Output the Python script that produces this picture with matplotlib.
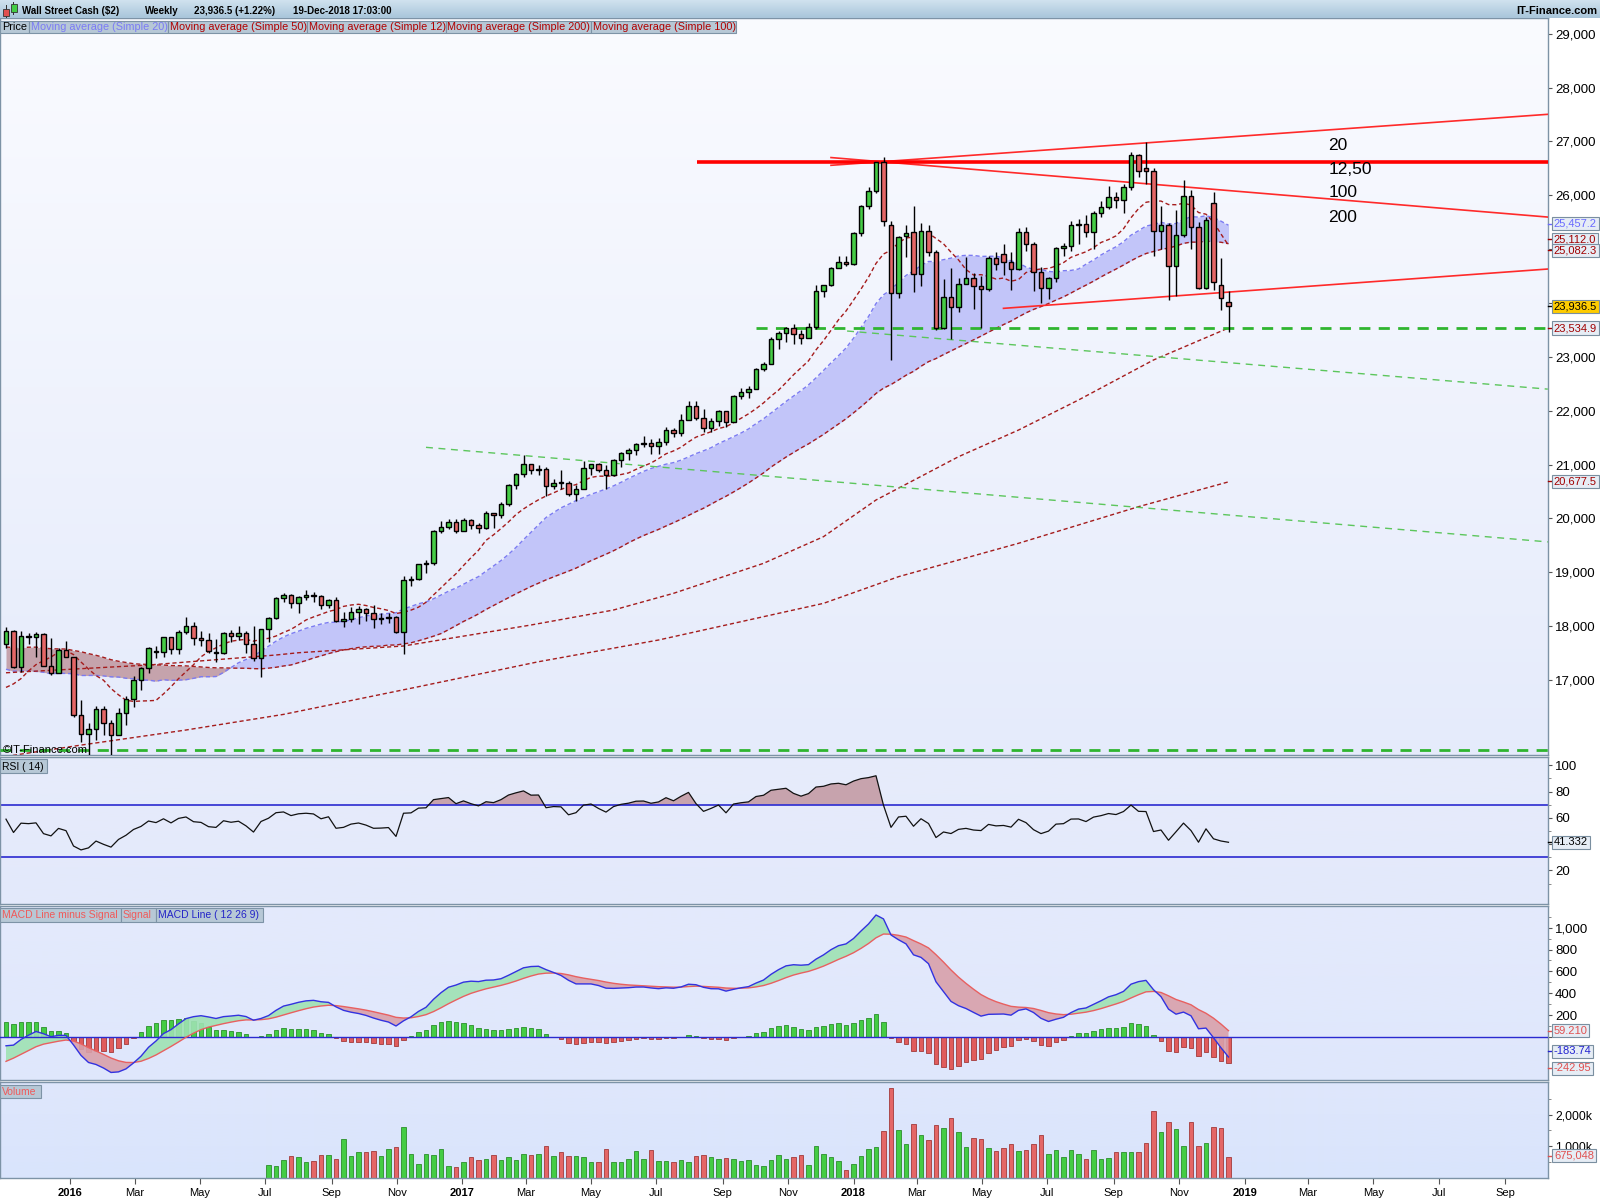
import numpy as np
import pandas as pd
import matplotlib
matplotlib.use("Agg")
import matplotlib.pyplot as plt
import matplotlib.dates as mdates
from matplotlib import font_manager
from matplotlib.patches import Rectangle
from matplotlib.colors import LinearSegmentedColormap
from matplotlib.transforms import blended_transform_factory as blend

# ---------------- data (weekly candles) ----------------
first_week = "2015-11-02"
opens = [
    17663, 17910, 17245, 17824, 17798, 17848, 17265, 17128, 17552, 17425,
    16346, 15988, 16094, 16466, 16205, 15974, 16392, 16640, 17006, 17213,
    17520, 17515, 17792, 17577, 17897, 18003, 17774, 17740, 17510, 17500,
    17873, 17807, 17865, 17675, 17400, 17949, 18147, 18517, 18571, 18432,
    18543, 18576, 18553, 18395, 18492, 18085, 18124, 18261, 18308, 18240,
    18138, 18145, 18161, 17888, 18847, 18868, 19152, 19171, 19757, 19843,
    19934, 19763, 19964, 19886, 19827, 20094, 20071, 20269, 20624, 20822,
    21006, 20903, 20915, 20597, 20663, 20656, 20453, 20548, 20941, 21007,
    20897, 20805, 21080, 21206, 21272, 21384, 21395, 21350, 21414, 21638,
    21580, 21830, 22092, 21858, 21675, 21814, 21988, 21798, 22268, 22350,
    22405, 22774, 22872, 23329, 23434, 23539, 23422, 23358, 23558, 24231,
    24329, 24652, 24754, 24719, 25296, 25803, 26072, 26617, 25450, 24191,
    25245, 25310, 24538, 25336, 24946, 23533, 24103, 23933, 24360, 24463,
    24311, 24263, 24831, 24900, 24753, 24635, 25317, 25090, 24581, 24271,
    24456, 25019, 25058, 25451, 25463, 25313, 25669, 25790, 25965, 25917,
    26155, 26744, 26500, 26447, 25340, 25444, 24688, 25271, 25989, 25413,
    24286, 25862, 24340, 24020]
highs = [
    17978, 17920, 17914, 17870, 17895, 17880, 17770, 17600, 17720, 17425,
    16620, 16200, 16510, 16510, 16250, 16480, 16700, 17070, 17240, 17620,
    17630, 17800, 17800, 17920, 18170, 18080, 17900, 17880, 17760, 17890,
    17920, 18000, 17900, 18010, 17950, 18170, 18540, 18620, 18590, 18560,
    18670, 18630, 18570, 18510, 18540, 18270, 18360, 18370, 18330, 18400,
    18250, 18250, 18180, 18930, 18930, 19160, 19230, 19780, 19950, 19990,
    19980, 19999, 19990, 19910, 20130, 20100, 20300, 20640, 20850, 21170,
    21010, 21000, 20950, 20740, 20890, 20700, 20620, 21070, 21010, 21020,
    21000, 21110, 21230, 21300, 21400, 21530, 21480, 21500, 21690, 21680,
    21930, 22180, 22180, 22040, 21860, 22010, 22000, 22290, 22420, 22450,
    22790, 22910, 23370, 23480, 23560, 23610, 23500, 23620, 24330, 24330,
    24670, 24880, 24880, 25320, 25810, 26150, 26620, 26705, 25530, 25250,
    25440, 25800, 25490, 25450, 24980, 24445, 24646, 24460, 24860, 24560,
    24500, 24870, 24950, 25090, 24950, 25400, 25410, 25130, 24660, 24480,
    25040, 25120, 25530, 25560, 25630, 25700, 25900, 26170, 26060, 26200,
    26800, 26770, 26980, 26510, 25800, 25480, 25720, 26280, 26100, 25500,
    25600, 26066, 24840, 24222]
lows = [
    17600, 17220, 17150, 17660, 17420, 17260, 17100, 17120, 17420, 16310,
    15840, 15450, 15880, 15980, 15500, 15970, 16160, 16500, 16820, 17130,
    17410, 17420, 17480, 17480, 17860, 17650, 17630, 17500, 17330, 17490,
    17700, 17750, 17500, 17360, 17060, 17710, 18140, 18450, 18340, 18240,
    18490, 18440, 18320, 18340, 18080, 17990, 18080, 18040, 18100, 17960,
    18040, 18060, 17880, 17480, 18740, 18860, 18990, 19140, 19720, 19810,
    19720, 19760, 19800, 19730, 19800, 19830, 20000, 20230, 20550, 20760,
    20830, 20800, 20410, 20550, 20540, 20410, 20330, 20540, 20800, 20860,
    20550, 20790, 20960, 21090, 21180, 21330, 21190, 21200, 21360, 21520,
    21530, 21820, 21830, 21600, 21600, 21720, 21700, 21790, 22220, 22230,
    22400, 22740, 22870, 23150, 23280, 23240, 23240, 23350, 23510, 24110,
    24320, 24650, 24680, 24710, 25250, 25740, 26050, 25420, 22950, 24100,
    24860, 24210, 24315, 24880, 23500, 23510, 23330, 23830, 24350, 23880,
    23530, 24220, 24620, 24520, 24240, 24620, 24970, 24220, 23990, 24080,
    24380, 24880, 24970, 25100, 25230, 25000, 25600, 25750, 25760, 25670,
    26100, 26330, 26200, 24870, 25000, 24050, 24120, 25230, 25000, 24260,
    24250, 24240, 23870, 23460]
closes = [
    17910, 17245, 17824, 17798, 17848, 17265, 17128, 17552, 17425, 16346,
    15988, 16094, 16466, 16205, 15974, 16392, 16640, 17006, 17213, 17602,
    17515, 17792, 17577, 17897, 18003, 17774, 17740, 17535, 17500, 17873,
    17807, 17865, 17675, 17400, 17949, 18147, 18517, 18571, 18432, 18543,
    18576, 18553, 18395, 18492, 18085, 18124, 18261, 18308, 18240, 18138,
    18145, 18161, 17888, 18847, 18868, 19152, 19171, 19757, 19843, 19934,
    19763, 19964, 19886, 19827, 20094, 20071, 20269, 20624, 20822, 21006,
    20903, 20915, 20597, 20663, 20656, 20453, 20548, 20941, 21007, 20897,
    20805, 21080, 21206, 21272, 21384, 21395, 21350, 21414, 21638, 21580,
    21830, 22092, 21858, 21675, 21814, 21988, 21798, 22268, 22350, 22405,
    22774, 22872, 23329, 23434, 23539, 23422, 23358, 23558, 24231, 24329,
    24652, 24754, 24719, 25296, 25803, 26072, 26617, 25521, 24191, 25219,
    25300, 24538, 25336, 24946, 23533, 24103, 23933, 24360, 24463, 24311,
    24263, 24831, 24715, 24753, 24635, 25317, 25090, 24581, 24271, 24456,
    25019, 25058, 25451, 25463, 25313, 25669, 25790, 25965, 25917, 26155,
    26744, 26458, 26447, 25340, 25444, 24688, 25271, 25989, 25413, 24286,
    25538, 24389, 24100, 23936.5]
# weekly closes before the first visible candle, only used to warm up the MAs / RSI / MACD
closes_before = [
    17573, 17634, 17810, 17828, 17958, 17280, 17804, 18053, 17833, 17737,
    17511, 17672, 17165, 17825, 18019, 18140, 18133, 17856, 17749, 18128,
    17713, 17763, 18058, 17826, 18080, 18024, 18191, 18272, 18232, 18011,
    17849, 17899, 18016, 17947, 17730, 17760, 18086, 17568, 17690, 17373,
    17477, 16460, 16643, 16102, 16433, 16385, 16315, 16472, 17084, 17216,
    17647, 17664]
# volume (thousands), starts at candle number vol_first
vol_first = 35
volume_k = [
    422, 390, 580, 706, 664, 516, 548, 727, 727, 601,
    1244, 706, 833, 833, 864, 706, 917, 991, 1623, 769,
    453, 769, 727, 917, 379, 358, 516, 664, 580, 601,
    727, 580, 664, 580, 759, 738, 759, 1022, 706, 833,
    706, 706, 664, 516, 516, 917, 516, 516, 601, 864,
    601, 896, 548, 548, 516, 580, 516, 706, 727, 664,
    601, 622, 601, 548, 580, 411, 390, 580, 727, 601,
    664, 727, 411, 1022, 759, 664, 548, 264, 443, 706,
    917, 991, 1497, 2846, 1518, 1086, 1718, 1370, 1212, 1686,
    1592, 1908, 1465, 991, 1275, 1244, 959, 864, 959, 1086,
    864, 896, 1086, 1370, 759, 896, 675, 896, 759, 601,
    896, 611, 643, 833, 833, 833, 833, 1117, 2129, 1465,
    1781, 1560, 1022, 1781, 1022, 1117, 1623, 1592, 675]
# long moving averages, read as points along the drawn lines (candle number, value)
ma100_weeks = [0, 19, 36, 39, 53, 70, 81, 89, 101, 109, 116, 127, 135, 143, 153, 163]
ma100_vals = [17133, 17277, 17463, 17505, 17630, 18020, 18298, 18608, 19165, 19660,
              20341, 21145, 21640, 22198, 22941, 23535]
ma200_weeks = [0, 10, 24, 37, 55, 71, 87, 109, 119, 135, 151, 163]
ma200_vals = [15580, 15790, 16070, 16360, 16874, 17338, 17741, 18422, 18917, 19537,
              20217, 20678]

# drawn trend lines: (start date, start price, end date, end price)
red_lines = [("2017-12-11", 26556, "2019-10-11", 27503),
             ("2017-12-11", 26700, "2019-10-11", 25595),
             ("2018-05-21", 23900, "2019-10-11", 24630)]
red_level = ("2017-08-08", 26620)
green_lines = [("2016-11-28", 21319, "2019-10-11", 19563),
               ("2017-12-26", 23479, "2019-10-11", 22400)]
green_level = ("2017-10-02", 23535)
green_floor = 15690
notes = ["20", "12,50", "100", "200"]
notes_y = [26839, 26395, 25962, 25503]
notes_date = "2019-03-20"

# ---------------- indicators ----------------
allc = pd.Series(closes_before + closes, dtype=float)
n0 = len(closes_before)
ma12 = allc.rolling(12).mean().to_numpy()[n0:]
ma20 = allc.rolling(20).mean().to_numpy()[n0:]
ma50 = allc.rolling(50).mean().to_numpy()[n0:]
diff = allc.diff().fillna(0)
gain = diff.clip(lower=0).ewm(alpha=1 / 14, adjust=False).mean()
loss = (-diff).clip(lower=0).ewm(alpha=1 / 14, adjust=False).mean()
rsi = (100 - 100 / (1 + gain / loss)).to_numpy()[n0:]
macd_s = allc.ewm(span=12, adjust=False).mean() - allc.ewm(span=26, adjust=False).mean()
sig_s = macd_s.ewm(span=9, adjust=False).mean()
macd = macd_s.to_numpy()[n0:]
signal = sig_s.to_numpy()[n0:]
hist = macd - signal

o = np.array(opens, float)
h = np.array(highs, float)
l = np.array(lows, float)
c = np.array(closes, float)
dates = pd.date_range(first_week, periods=len(closes), freq="7D")
x = mdates.date2num(dates)
up = c >= o

# ---------------- style ----------------
plt.rcParams["font.family"] = ["Liberation Sans", "DejaVu Sans"]
installed = {f.name for f in font_manager.fontManager.ttflist}
if "Liberation Sans Narrow" in installed:
    title_fam, title_size = ["Liberation Sans Narrow", "DejaVu Sans"], 8.3
else:
    title_fam, title_size = ["Liberation Sans", "DejaVu Sans"], 7.0

GREEN, RED = "#46cc46", "#e46666"
DKRED = "#a51c1c"
FRAME = "#7d93a6"
W, H = 1600, 1200


def box(x0, y0, x1, y1):
    return [x0 / W, 1 - y1 / H, (x1 - x0) / W, (y1 - y0) / H]


def gradient(ax, top, bottom):
    cmap = LinearSegmentedColormap.from_list("g", [bottom, top])
    ax.imshow(np.linspace(0, 1, 256).reshape(-1, 1), cmap=cmap, origin="lower",
              aspect="auto", extent=(0, 1, 0, 1), transform=ax.transAxes,
              zorder=0, interpolation="bilinear")


def ftext(px, py, s, **kw):
    fig.text(px / W, 1 - py / H, s, **kw)


def frect(x0, y0, x1, y1, **kw):
    fig.add_artist(Rectangle((x0 / W, 1 - y1 / H), (x1 - x0) / W, (y1 - y0) / H,
                             transform=fig.transFigure, **kw))


def label_box(x0, y0, x1, y1, s, col, size=7.5):
    frect(x0, y0, x1, y1, fc="#b7c8d6", ec=FRAME, lw=0.8, zorder=8)
    ftext(x0 + 2, (y0 + y1) / 2 + 0.5, s, color=col, fontsize=size, va="center", zorder=9)


def value_box(ax, y, s, tc, fc="#e6edf5"):
    tr = blend(ax.transAxes, ax.transData)
    ax.plot([1.0, 1.004], [y, y], color=tc, lw=1, transform=tr, clip_on=False, zorder=6)
    ax.text(1.0038, y, s, transform=tr, ha="left", va="center", fontsize=8, color=tc,
            clip_on=False, zorder=7,
            bbox=dict(boxstyle="square,pad=0.15", fc=fc, ec="#7a8fa0", lw=0.8))


fig = plt.figure(figsize=(16, 12), dpi=100, facecolor="white")
xlim = (x[0] - 5.6, x[0] + 1439.2)

ax_p = fig.add_axes(box(0, 18.4, 1548, 755))
ax_r = fig.add_axes(box(0, 757, 1548, 904))
ax_m = fig.add_axes(box(0, 906, 1548, 1080))
ax_v = fig.add_axes(box(0, 1082, 1548, 1178))

gradient(ax_p, "#fafbff", "#e5ebfb")
gradient(ax_r, "#e7ecfb", "#e3e9fb")
gradient(ax_m, "#e4eafc", "#dfe7fc")
gradient(ax_v, "#dfe7fc", "#d9e4fc")

# ---------------- price panel ----------------
ax_p.fill_between(x, ma20, ma50, where=ma20 >= ma50, interpolate=True,
                  color="#c2c5f9", lw=0, zorder=1)
ax_p.fill_between(x, ma20, ma50, where=ma20 < ma50, interpolate=True,
                  color="#c5a3ac", lw=0, zorder=1)
ax_p.plot(x, ma20, color="#7b7bf2", lw=1, ls=(0, (3, 2)), zorder=2)
ax_p.plot(x, ma50, color=DKRED, lw=1, ls=(0, (3, 2)), zorder=2)
ax_p.plot(x, ma12, color=DKRED, lw=1, ls=(0, (3, 2)), zorder=2)
ax_p.plot(x[ma100_weeks], ma100_vals, color=DKRED, lw=1, ls=(0, (3, 2)), zorder=2)
ax_p.plot(x[ma200_weeks], ma200_vals, color=DKRED, lw=1, ls=(0, (3, 2)), zorder=2)

for d0, p0, d1, p1 in red_lines:
    ax_p.plot(mdates.datestr2num([d0, d1]), [p0, p1], color="#ff2a2a", lw=1.2, zorder=3)
ax_p.hlines(red_level[1], mdates.datestr2num(red_level[0]), xlim[1], color="#ff0000",
            lw=2.6, zorder=3)
for d0, p0, d1, p1 in green_lines:
    ax_p.plot(mdates.datestr2num([d0, d1]), [p0, p1], color="#5cc65c", lw=1,
              ls=(0, (5, 4)), zorder=3)
ax_p.hlines(green_level[1], mdates.datestr2num(green_level[0]), xlim[1], color="#2fb52f",
            lw=2, ls=(0, (4, 3)), zorder=3)
ax_p.axhline(green_floor, color="#2fb52f", lw=2, ls=(0, (4, 3)), zorder=3)

body_lo = np.minimum(o, c)
body_h = np.maximum(np.abs(c - o), 14)
ax_p.vlines(x, l, h, color="black", lw=1, zorder=4)
ax_p.bar(x[up], body_h[up], bottom=body_lo[up], width=4.6, color=GREEN,
         edgecolor="black", lw=1, zorder=5)
ax_p.bar(x[~up], body_h[~up], bottom=body_lo[~up], width=4.6, color=RED,
         edgecolor="black", lw=1, zorder=5)

for s, yv in zip(notes, notes_y):
    ax_p.text(mdates.datestr2num(notes_date), yv, s, fontsize=12.5, va="baseline",
              ha="left", color="black", zorder=6)

ax_p.set_ylim(15606, 29284)
pt = list(range(17000, 30000, 1000))
ax_p.set_yticks(pt)
ax_p.set_yticklabels(["" if v in (24000, 25000) else f"{v:,}" for v in pt])
ax_p.get_yticklabels()[pt.index(20000)].set_fontweight("bold")
ax_p.text(0.002, 15700, "\u00a9IT-Finance.com", transform=blend(ax_p.transAxes, ax_p.transData),
          fontsize=8, va="center", ha="left", zorder=7)

value_box(ax_p, 25470, "25,457.2", "#6a6aff")
value_box(ax_p, 25180, "25,112.0", "#a00000")
value_box(ax_p, 24975, "25,082.3", "#a00000")
value_box(ax_p, 23936.5, "23,936.5", "black", fc="#ffcc00")
value_box(ax_p, 23535, "23,534.9", "#a00000")
value_box(ax_p, 20690, "20,677.5", "#a00000")

# ---------------- RSI ----------------
ax_r.fill_between(x, rsi, 70, where=rsi > 70, interpolate=True, color="#c7a3ad", lw=0, zorder=1)
ax_r.axhline(70, color="#2a2ad0", lw=1.2, zorder=2)
ax_r.axhline(30, color="#2a2ad0", lw=1.2, zorder=2)
ax_r.plot(x, rsi, color="#111111", lw=0.9, zorder=3)
ax_r.set_ylim(-5.5, 106.3)
ax_r.set_yticks([20, 40, 60, 80, 100])
ax_r.set_yticklabels(["20", "", "60", "80", "100"])
ax_r.get_yticklabels()[-1].set_fontweight("bold")
ax_r.set_yticks([10, 30, 50, 70, 90], minor=True)
value_box(ax_r, 41.3, "41.332", "black")

# ---------------- MACD ----------------
ax_m.bar(x, hist, width=4.6, color=np.where(hist >= 0, "#44cc44", "#e05c5c"),
         edgecolor=np.where(hist >= 0, "#2b8f2b", "#a33a3a"), lw=0.6, zorder=1)
ax_m.fill_between(x, macd, signal, where=macd >= signal, interpolate=True,
                  color="#9fe2b3", lw=0, alpha=0.9, zorder=2)
ax_m.fill_between(x, macd, signal, where=macd < signal, interpolate=True,
                  color="#d9a0aa", lw=0, alpha=0.9, zorder=2)
ax_m.axhline(0, color="#2a2ad0", lw=1, zorder=3)
ax_m.plot(x, signal, color="#e86060", lw=1, zorder=4)
ax_m.plot(x, macd, color="#3232e0", lw=1, zorder=4)
ax_m.set_ylim(-391, 1197)
mt = [0, 200, 400, 600, 800, 1000]
ax_m.set_yticks(mt)
ax_m.set_yticklabels(["", "200", "400", "600", "800", "1,000"])
ax_m.get_yticklabels()[-1].set_fontweight("bold")
ax_m.set_yticks([100, 300, 500, 700, 900, 1100], minor=True)
value_box(ax_m, 58, "59.210", "#e05050")
value_box(ax_m, -129, "-183.74", "#2222d0")
value_box(ax_m, -284, "-242.95", "#e05050")

# ---------------- volume ----------------
xv = x[vol_first:]
upv = up[vol_first:]
ax_v.bar(xv, volume_k, width=4.6, color=np.where(upv, "#44cc44", "#e46666"),
         edgecolor=np.where(upv, "#2b8f2b", "#a33a3a"), lw=0.6, zorder=2)
ax_v.set_ylim(0, 3030)
ax_v.set_yticks([1000, 2000])
ax_v.set_yticklabels(["1,000k", "2,000k"])
ax_v.set_yticks([500, 1500, 2500], minor=True)
value_box(ax_v, 700, "675,048", "#e05050")

# ---------------- shared axis styling ----------------
for ax in (ax_p, ax_r, ax_m, ax_v):
    ax.set_xlim(xlim)
    ax.yaxis.tick_right()
    ax.tick_params(axis="y", which="major", direction="out", length=3, pad=2,
                   labelsize=9.5, color="#555555")
    ax.tick_params(axis="y", which="minor", direction="out", length=2, color="#777777")
    ax.tick_params(axis="x", which="both", bottom=False, labelbottom=False)
    for sp in ax.spines.values():
        sp.set_color(FRAME)
        sp.set_linewidth(1)
ax_v.tick_params(axis="y", which="major", labelsize=8.8)

months = pd.date_range("2016-01-01", "2019-09-01", freq="2MS")
ax_v.set_xticks(mdates.date2num(months))
ax_v.set_xticklabels([str(m.year) if m.month == 1 else m.strftime("%b") for m in months])
ax_v.tick_params(axis="x", bottom=True, labelbottom=True, direction="out", length=4,
                 pad=3, labelsize=8, color="#555555")
for t, m in zip(ax_v.get_xticklabels(), months):
    if m.month == 1:
        t.set_fontweight("bold")

# ---------------- header and legend boxes ----------------
ax_h = fig.add_axes(box(0, 0, W, 18.4))
gradient(ax_h, "#d3e4f0", "#a8c5da")
ax_h.set_xlim(0, 1)
ax_h.set_ylim(0, 1)
ax_h.set_axis_off()

frect(5.5, 5, 6.5, 18, fc="#333333", ec="none", zorder=8)
frect(3, 9, 9, 16, fc="#e05050", ec="#333333", lw=0.6, zorder=9)
frect(13, 1.5, 14, 15, fc="#333333", ec="none", zorder=8)
frect(11, 4, 17, 12, fc="#44cc44", ec="#333333", lw=0.6, zorder=9)

title_kw = dict(fontweight="bold", va="center", family=title_fam, fontsize=title_size)
ftext(22.5, 11, "Wall Street Cash ($2)", **title_kw)
ftext(145, 11, "Weekly", **title_kw)
ftext(194, 11, "23,936.5 (+1.22%)", **title_kw)
ftext(293, 11, "19-Dec-2018 17:03:00", **title_kw)
ftext(1597, 11, "IT-Finance.com", fontweight="bold", va="center", ha="right", fontsize=8)

legend_items = [(0, 29, "Price", "black"),
                (29, 168, "Moving average (Simple 20)", "#7b7bf5"),
                (168, 307, "Moving average (Simple 50)", "#b00000"),
                (307, 445.5, "Moving average (Simple 12)", "#b00000"),
                (445.5, 591, "Moving average (Simple 200)", "#b00000"),
                (591, 736, "Moving average (Simple 100)", "#b00000")]
for x0, x1, s, col in legend_items:
    label_box(x0, 20.7, x1, 33.3, s, col, size=7.8)

label_box(0, 759, 47, 773, "RSI ( 14)", "black")
label_box(0, 908, 121, 922, "MACD Line minus Signal", "#f05a5a")
label_box(121, 908, 156, 922, "Signal", "#f05a5a")
label_box(156, 908, 263, 922, "MACD Line ( 12 26 9)", "#2424c8")
label_box(0, 1085, 41, 1098, "Volume", "#f05a5a")

fig.savefig("out.png", dpi=100, facecolor="white")
